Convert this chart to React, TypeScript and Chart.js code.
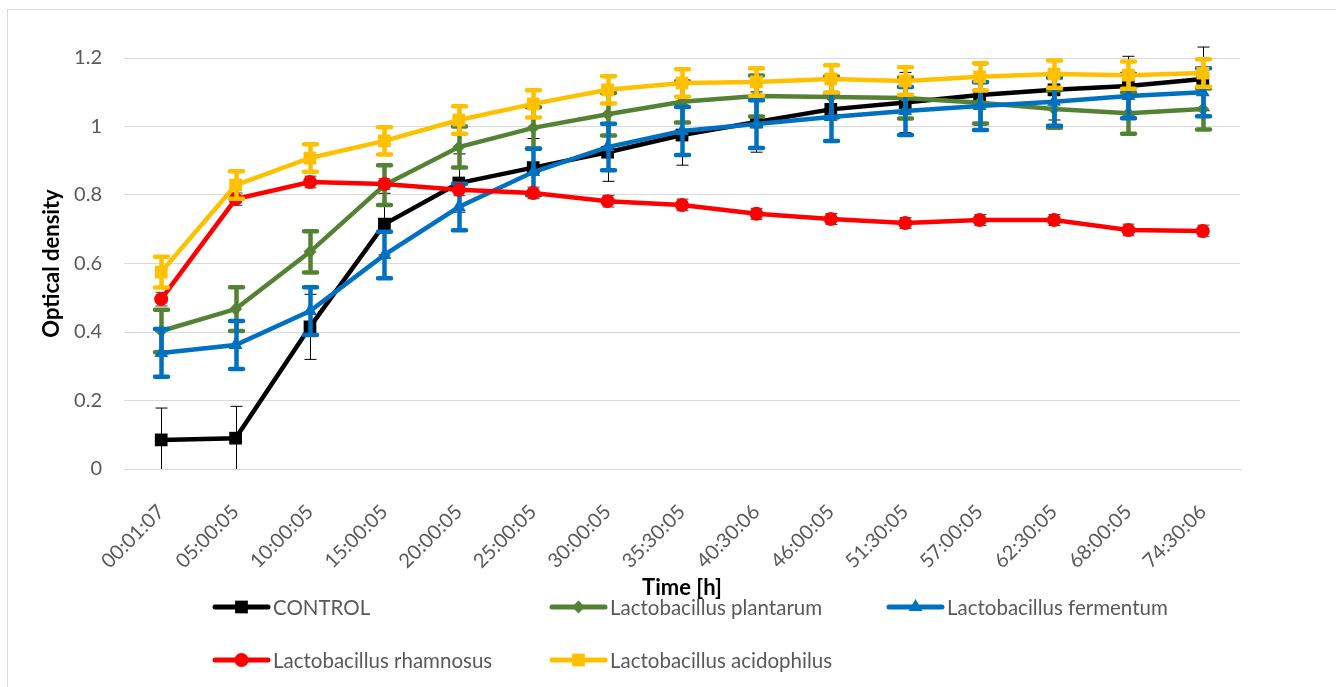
import React, { useEffect, useRef } from 'react';
import { Chart, registerables } from 'chart.js';

Chart.register(...registerables);

// Sampling times (hh:mm:ss)
const timeLabels = [
  '00:01:07', '05:00:05', '10:00:05', '15:00:05', '20:00:05',
  '25:00:05', '30:00:05', '35:30:05', '40:30:06', '46:00:05',
  '51:30:05', '57:00:05', '62:30:05', '68:00:05', '74:30:06',
];

// Mean optical density per strain
const controlOD = [0.085, 0.09, 0.415, 0.715, 0.835, 0.88, 0.925, 0.975, 1.013, 1.05, 1.07, 1.092, 1.107, 1.118, 1.139];
const plantarumOD = [0.403, 0.467, 0.634, 0.829, 0.94, 0.996, 1.036, 1.072, 1.089, 1.086, 1.083, 1.069, 1.051, 1.039, 1.051];
const fermentumOD = [0.339, 0.362, 0.461, 0.625, 0.765, 0.867, 0.94, 0.987, 1.007, 1.028, 1.045, 1.06, 1.072, 1.089, 1.1];
const rhamnosusOD = [0.496, 0.788, 0.838, 0.832, 0.815, 0.806, 0.782, 0.771, 0.745, 0.73, 0.718, 0.727, 0.727, 0.698, 0.695];
const acidophilusOD = [0.575, 0.829, 0.908, 0.958, 1.019, 1.066, 1.107, 1.127, 1.13, 1.139, 1.133, 1.145, 1.153, 1.15, 1.156];

// Standard deviations
const controlSD = [0.093, 0.093, 0.095, 0.09, 0.085, 0.085, 0.085, 0.088, 0.088, 0.088, 0.088, 0.088, 0.088, 0.087, 0.093];
const plantarumSD = [0.062, 0.064, 0.06, 0.058, 0.06, 0.06, 0.062, 0.06, 0.06, 0.06, 0.06, 0.06, 0.055, 0.06, 0.06];
const fermentumSD = [0.07, 0.07, 0.07, 0.068, 0.068, 0.068, 0.068, 0.07, 0.07, 0.07, 0.07, 0.07, 0.07, 0.065, 0.07];
const rhamnosusSD = [0.02, 0.018, 0.017, 0.015, 0.017, 0.017, 0.017, 0.017, 0.016, 0.016, 0.016, 0.016, 0.016, 0.017, 0.017];
const acidophilusSD = [0.045, 0.04, 0.04, 0.04, 0.04, 0.04, 0.04, 0.04, 0.04, 0.04, 0.04, 0.04, 0.04, 0.04, 0.04];

const yTicks = [0, 0.2, 0.4, 0.6, 0.8, 1, 1.2];

const FONT = 'Lato, "Open Sans", sans-serif';
const TEXT_GREY = '#595959';

type Marker = 'rect' | 'rectRot' | 'triangle' | 'circle';

function drawMarker(ctx: CanvasRenderingContext2D, style: Marker, x: number, y: number, r: number, color: string) {
  ctx.save();
  ctx.fillStyle = color;
  ctx.beginPath();
  if (style === 'rect') {
    const s = r * Math.SQRT1_2;
    ctx.rect(x - s, y - s, 2 * s, 2 * s);
  } else if (style === 'rectRot') {
    ctx.moveTo(x, y - r);
    ctx.lineTo(x + r, y);
    ctx.lineTo(x, y + r);
    ctx.lineTo(x - r, y);
    ctx.closePath();
  } else if (style === 'triangle') {
    let a = 0;
    ctx.moveTo(x + Math.sin(a) * r, y - Math.cos(a) * r);
    a += (2 * Math.PI) / 3;
    ctx.lineTo(x + Math.sin(a) * r, y - Math.cos(a) * r);
    a += (2 * Math.PI) / 3;
    ctx.lineTo(x + Math.sin(a) * r, y - Math.cos(a) * r);
    ctx.closePath();
  } else {
    ctx.arc(x, y, r, 0, Math.PI * 2);
  }
  ctx.fill();
  ctx.restore();
}

// Vertical error bars, painted just before each series so its line and markers sit on top
const errorBarPlugin = {
  id: 'errorBars',
  beforeDatasetDraw(chart: any, args: any) {
    const ds = chart.data.datasets[args.index];
    const errs: number[] = ds.errors;
    if (!errs) return;
    const yScale = chart.scales.y;
    const ctx: CanvasRenderingContext2D = chart.ctx;
    ctx.save();
    ctx.strokeStyle = ds.errColor;
    ctx.lineWidth = ds.errWidth;
    ctx.lineCap = ds.errWidth > 2 ? 'round' : 'butt';
    const half = ds.errCap / 2;
    args.meta.data.forEach((pt: any, i: number) => {
      const v = ds.data[i];
      const e = errs[i];
      const x = Math.round(pt.x) + (ds.errWidth % 2 ? 0.5 : 0);
      const topV = v + e;
      const botV = Math.max(v - e, yScale.min);
      const yTop = yScale.getPixelForValue(topV);
      const yBot = yScale.getPixelForValue(botV);
      ctx.beginPath();
      ctx.moveTo(x, yTop);
      ctx.lineTo(x, yBot);
      ctx.moveTo(x - half, yTop);
      ctx.lineTo(x + half, yTop);
      if (v - e >= yScale.min) {
        ctx.moveTo(x - half, yBot);
        ctx.lineTo(x + half, yBot);
      }
      ctx.stroke();
    });
    ctx.restore();
  },
};

// Outer frame of the chart object
const framePlugin = {
  id: 'frame',
  beforeDraw(chart: any) {
    const ctx: CanvasRenderingContext2D = chart.ctx;
    ctx.save();
    ctx.fillStyle = '#ffffff';
    ctx.fillRect(0, 0, chart.width, chart.height);
    ctx.strokeStyle = '#d9d9d9';
    ctx.lineWidth = 1;
    ctx.strokeRect(7.5, 9.5, chart.width + 20, chart.height + 20);
    ctx.restore();
  },
};

// Two-row, three-column legend under the axis title
const gridLegendPlugin = {
  id: 'gridLegend',
  afterDraw(chart: any) {
    const ctx: CanvasRenderingContext2D = chart.ctx;
    ctx.save();
    chart.data.datasets.forEach((ds: any, i: number) => {
      const col = i % 3;
      const row = Math.floor(i / 3);
      const x0 = 215 + col * 337;
      const y = 607 + row * 53;
      ctx.strokeStyle = ds.borderColor;
      ctx.lineWidth = 5;
      ctx.lineCap = 'round';
      ctx.beginPath();
      ctx.moveTo(x0, y);
      ctx.lineTo(x0 + 53, y);
      ctx.stroke();
      drawMarker(ctx, ds.pointStyle, x0 + 26.5, y, ds.pointRadius, ds.borderColor);
      ctx.fillStyle = TEXT_GREY;
      ctx.font = `20.5px ${FONT}`;
      ctx.textAlign = 'left';
      ctx.textBaseline = 'middle';
      ctx.fillText(ds.label, x0 + 58, y + 1);
    });
    ctx.restore();
  },
};

const series = [
  { label: 'CONTROL', data: controlOD, errors: controlSD, color: '#000000', style: 'rect', radius: 9, errColor: '#000000', errWidth: 1, errCap: 12, order: 4 },
  { label: 'Lactobacillus plantarum', data: plantarumOD, errors: plantarumSD, color: '#548235', style: 'rectRot', radius: 6.5, errColor: '#548235', errWidth: 4.5, errCap: 13, order: 3 },
  { label: 'Lactobacillus fermentum', data: fermentumOD, errors: fermentumSD, color: '#0070C0', style: 'triangle', radius: 8, errColor: '#0070C0', errWidth: 4.5, errCap: 13, order: 2 },
  { label: 'Lactobacillus rhamnosus', data: rhamnosusOD, errors: rhamnosusSD, color: '#FF0000', style: 'circle', radius: 7, errColor: '#404040', errWidth: 1, errCap: 12, order: 1 },
  { label: 'Lactobacillus acidophilus', data: acidophilusOD, errors: acidophilusSD, color: '#FFC000', style: 'rect', radius: 9, errColor: '#FFC000', errWidth: 4.5, errCap: 13, order: 0 },
];

export default function App() {
  const canvasRef = useRef<HTMLCanvasElement | null>(null);

  useEffect(() => {
    if (!canvasRef.current) return;
    const chart = new Chart(canvasRef.current, {
      type: 'line',
      data: {
        labels: timeLabels,
        datasets: series.map((s) => ({
          label: s.label,
          data: s.data,
          errors: s.errors,
          errColor: s.errColor,
          errWidth: s.errWidth,
          errCap: s.errCap,
          order: s.order,
          borderColor: s.color,
          backgroundColor: s.color,
          pointBackgroundColor: s.color,
          pointBorderColor: s.color,
          pointBorderWidth: 0,
          borderWidth: 4.5,
          pointStyle: s.style,
          pointRadius: s.radius,
          pointHoverRadius: s.radius,
          tension: 0,
          fill: false,
          clip: false,
        })) as any,
      },
      options: {
        responsive: false,
        maintainAspectRatio: false,
        animation: false,
        events: [],
        layout: { padding: { left: 0, right: 96, top: 58, bottom: 86 } },
        plugins: {
          legend: { display: false },
          tooltip: { enabled: false },
        },
        scales: {
          x: {
            type: 'category',
            offset: true,
            grid: { display: false, drawTicks: false },
            border: { display: true, color: '#d9d9d9', width: 1 },
            ticks: {
              color: TEXT_GREY,
              font: { family: FONT, size: 20 },
              minRotation: 45,
              maxRotation: 45,
              autoSkip: false,
              padding: 31,
            },
            title: {
              display: true,
              text: 'Time [h]',
              color: '#000000',
              font: { family: FONT, size: 22, weight: 'bold' },
              padding: { top: 0, bottom: 0 },
            },
            afterFit(scale: any) {
              scale.height = 132;
            },
          },
          y: {
            min: 0,
            max: 1.2,
            afterBuildTicks(scale: any) {
              scale.ticks = yTicks.map((v) => ({ value: v }));
            },
            grid: { color: '#d9d9d9', lineWidth: 1, drawTicks: false },
            border: { display: false },
            ticks: {
              color: TEXT_GREY,
              font: { family: FONT, size: 20 },
              padding: 22,
              callback: (v: any) => String(Number(Number(v).toFixed(1))),
            },
            title: {
              display: true,
              text: 'Optical density',
              color: '#000000',
              font: { family: FONT, size: 22, weight: 'bold' },
              padding: { top: 39, bottom: 0 },
            },
            afterFit(scale: any) {
              scale.width = 124;
            },
          },
        },
      },
      plugins: [framePlugin, errorBarPlugin, gridLegendPlugin],
    });
    return () => chart.destroy();
  }, []);

  return (
    <div style={{ position: 'fixed', left: 0, top: 0, width: 1336, height: 687, background: '#ffffff' }}>
      <canvas ref={canvasRef} width={1336} height={687} style={{ display: 'block' }} />
    </div>
  );
}
